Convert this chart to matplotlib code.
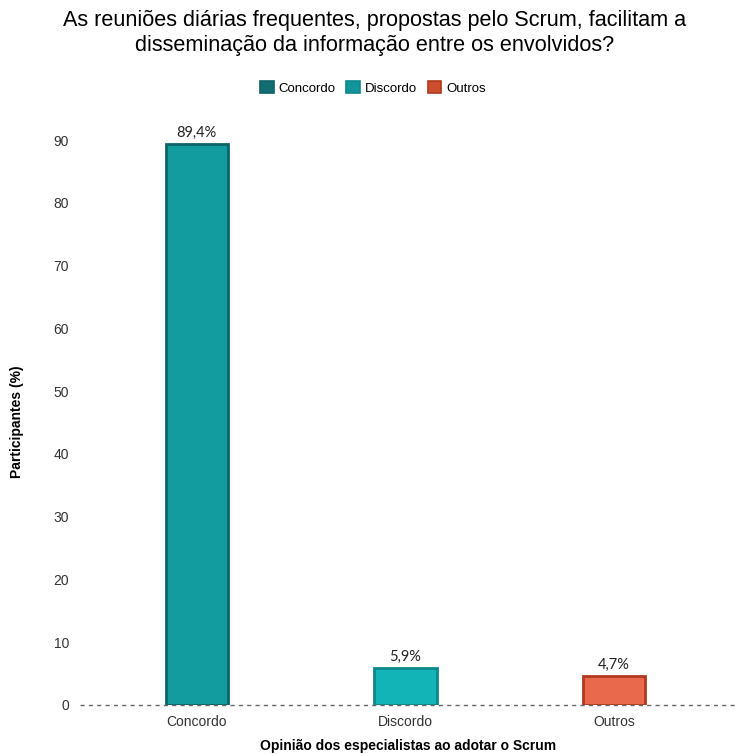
import matplotlib.pyplot as plt
from matplotlib.patches import Patch

categorias = ["Concordo", "Discordo", "Outros"]
valores = [89.4, 5.9, 4.7]
rotulos = ["89,4%", "5,9%", "4,7%"]
cores = ["#139ca0", "#12b4b8", "#e8694b"]
bordas = ["#0d6468", "#0d878b", "#b0391f"]
cores_legenda = ["#136c72", "#12959a", "#cc4e2e"]

plt.rcParams['font.family'] = ['Liberation Sans', 'DejaVu Sans']

fig = plt.figure(figsize=(7.36, 7.54), dpi=100)
ax = fig.add_axes([80 / 736, 1 - 705 / 754, 656 / 736, 590 / 754])

x = range(len(categorias))
ax.bar(x, valores, width=0.3, color=cores, edgecolor=bordas, linewidth=2, zorder=2)
for xi, v, r in zip(x, valores, rotulos):
    ax.text(xi, v + 0.6, r, ha='center', va='bottom', fontsize=10.5,
            family=['Lato', 'DejaVu Sans'], color='#222222')

ax.axhline(0, color='#666666', linestyle=(0, (3, 3)), linewidth=1, zorder=3, clip_on=False)

ax.set_xlim(-0.56, 2.585)
ax.set_ylim(0, 94)
ax.set_yticks(range(0, 91, 10))
ax.set_xticks(list(x))
ax.set_xticklabels(categorias)
ax.tick_params(axis='both', length=0, labelsize=10, labelcolor='#333333')
ax.tick_params(axis='x', pad=7)
ax.tick_params(axis='y', pad=8)
for lab in ax.get_xticklabels() + ax.get_yticklabels():
    lab.set_family(['Liberation Sans', 'DejaVu Sans'])
for s in ax.spines.values():
    s.set_visible(False)

ax.set_ylabel('Participantes (%)', fontsize=10, fontweight='bold')
ax.yaxis.set_label_coords(-56 / 656, 0.48)
ax.set_xlabel('Opinião dos especialistas ao adotar o Scrum', fontsize=10, fontweight='bold')
ax.xaxis.set_label_coords(328 / 656, -34 / 590)

fig.text(375 / 736, 1 - 33 / 754,
         'As reuniões diárias frequentes, propostas pelo Scrum, facilitam a\n'
         'disseminação da informação entre os envolvidos?',
         ha='center', va='center', fontsize=15.6, linespacing=1.2)

handles = [Patch(facecolor=c, edgecolor=b, linewidth=1.2) for c, b in zip(cores_legenda, bordas)]
fig.legend(handles, categorias, loc='center', bbox_to_anchor=(373 / 736, 1 - 88 / 754),
           ncol=3, frameon=False, fontsize=9.5, handlelength=1.0, handleheight=1.0,
           handletextpad=0.4, columnspacing=0.8)

fig.savefig('out.png', dpi=100, facecolor='white')
